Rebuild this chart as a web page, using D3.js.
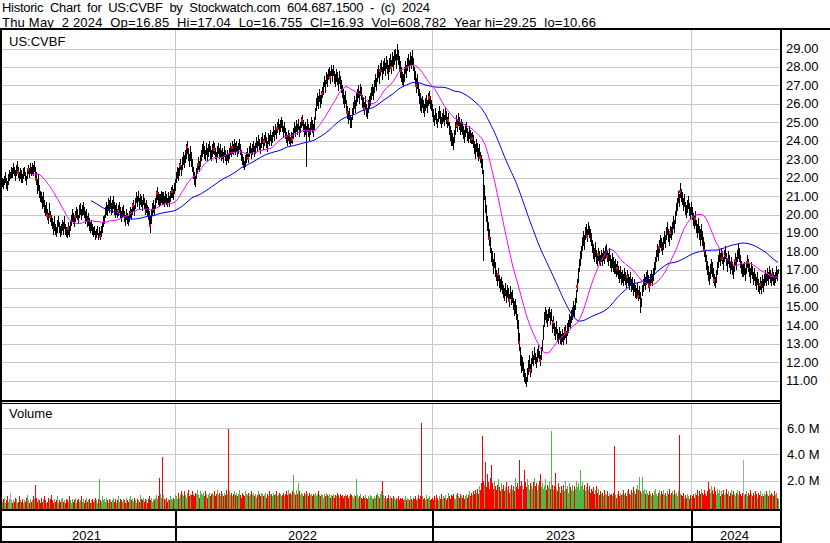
<!DOCTYPE html>
<html><head><meta charset="utf-8">
<script src="https://cdn.jsdelivr.net/npm/d3@7"></script>
<style>
body{margin:0;background:#fff}
svg{display:block}
text{font-family:"Liberation Sans",Arial,sans-serif;font-size:13px;fill:#000;white-space:pre}
</style>
</head><body>
<svg id="c" width="830" height="543"></svg>
<script>
const title1 = "Historic  Chart  for  US:CVBF  by  Stockwatch.com  604.687.1500  -  (c)  2024";
const title2 = "Thu May  2 2024  Op=16.85  Hi=17.04  Lo=16.755  Cl=16.93  Vol=608,782  Year hi=29.25  lo=10.66";
const symbol = "US:CVBF";
const years = ["2021", "2022", "2023", "2024"];
const yearStart = [173, 430, 689];           // bar index of first trading day of 2022, 2023, 2024
const priceTicks = [11,12,13,14,15,16,17,18,19,20,21,22,23,24,25,26,27,28,29];
const volTicks = [20, 40, 60];               // in 100k shares
const volTickLabels = ["2.0 M", "4.0 M", "6.0 M"];
const maFast = 31, maSlow = 90;

// daily highs
const hi = [
22.0,21.9,22.1,22.3,22.0,21.8,22.2,22.4,22.3,22.6,
22.5,22.8,22.6,22.4,22.7,22.9,22.6,22.3,22.5,22.4,
22.2,22.5,22.6,22.3,22.1,22.4,22.7,22.5,22.8,22.6,
22.8,22.7,22.9,22.6,22.3,21.9,22.2,21.6,21.3,21.2,
21.0,21.2,20.8,20.5,20.7,20.3,20.1,20.6,20.2,20.0,
19.8,19.6,19.9,19.5,19.3,19.7,19.9,19.6,19.4,19.5,
19.7,19.6,19.9,19.5,19.3,19.2,19.6,19.4,19.7,20.0,
20.3,20.1,19.9,20.2,20.4,20.3,20.0,20.5,20.6,20.3,
20.5,20.7,20.4,20.2,20.3,19.9,20.1,19.8,19.6,19.7,
19.5,19.3,19.4,19.1,19.2,19.4,19.0,19.3,19.1,19.4,
19.6,19.9,20.0,20.4,20.7,20.5,20.9,20.8,21.0,20.6,
20.8,21.0,20.7,20.5,20.6,20.3,20.5,20.7,20.4,20.2,
20.4,20.5,20.2,20.0,20.3,20.1,19.9,20.2,20.4,20.3,
20.6,20.8,20.5,20.9,21.2,21.0,21.3,20.9,21.1,21.0,
20.8,21.1,20.9,20.6,20.8,20.5,20.4,20.2,19.9,20.3,
20.6,20.8,20.5,20.9,21.3,21.5,21.2,21.1,21.1,21.3,
21.2,21.2,21.0,21.3,21.1,20.9,21.2,21.0,21.3,21.5,
21.6,21.4,21.7,21.9,22.3,22.6,22.5,22.8,23.0,22.7,
23.1,23.4,23.2,23.5,23.8,24.0,23.6,23.3,23.7,23.4,
23.0,22.6,22.3,22.1,22.5,22.8,23.1,22.9,23.2,23.5,
23.8,24.0,23.7,23.5,23.9,23.6,23.8,24.0,23.7,23.5,
23.8,24.0,23.9,23.6,23.4,23.7,23.9,23.6,23.8,23.5,
23.6,23.4,23.7,23.5,23.2,23.5,23.3,23.6,23.9,23.7,
24.0,23.8,24.1,23.9,24.0,23.7,23.9,24.1,23.8,23.5,
23.3,23.1,22.9,23.2,23.4,23.6,23.3,23.7,23.9,23.6,
23.8,24.0,23.7,23.9,24.2,24.0,24.3,24.1,23.9,24.2,
24.4,24.1,24.3,24.5,24.2,24.0,24.4,24.3,24.6,24.3,
24.5,24.8,24.6,24.9,24.7,25.0,25.2,24.9,25.1,25.3,
25.1,24.8,25.0,24.7,24.5,24.3,24.6,24.4,24.2,24.5,
24.4,24.7,25.0,24.8,25.1,24.9,25.2,24.8,25.0,25.3,
25.4,25.1,24.9,25.0,24.8,25.2,24.9,24.7,25.0,25.3,
25.1,24.9,25.3,25.8,26.3,26.6,26.4,26.8,26.5,26.7,
26.9,27.2,27.5,27.3,27.7,27.6,27.9,28.0,27.8,28.1,
27.9,28.1,27.8,27.6,27.9,27.7,27.4,27.8,27.5,27.3,
27.0,26.8,26.5,26.7,26.2,25.9,25.6,25.8,25.4,25.3,
25.8,26.1,26.4,26.2,26.6,26.8,27.0,26.7,27.1,26.9,
26.5,26.3,26.1,26.4,26.0,25.8,26.2,26.4,26.6,26.9,
27.1,26.9,27.3,27.6,27.4,27.9,28.1,27.8,28.2,28.4,
28.0,28.3,28.5,28.2,28.6,28.4,28.1,28.5,28.7,28.4,
28.8,28.6,28.9,29.0,28.7,29.25,28.9,28.6,28.3,28.0,
27.7,27.6,28.0,28.3,28.1,28.5,28.7,28.4,28.8,28.6,
28.9,28.5,28.0,27.8,27.4,27.6,27.2,26.8,26.6,26.3,
26.4,26.2,26.0,26.3,26.5,26.2,26.6,26.7,26.4,26.2,
26.0,25.7,25.4,25.8,25.5,25.2,25.6,25.9,25.6,25.3,
25.5,25.7,25.4,25.8,25.6,25.3,25.5,25.0,24.8,24.6,
24.4,24.2,24.6,25.0,25.4,25.2,25.5,25.3,25.0,25.2,
25.0,24.8,24.6,24.9,25.0,24.7,24.5,24.8,24.6,24.4,
24.5,24.3,24.0,23.8,24.1,23.9,23.6,23.8,23.4,23.2,
23.0,22.4,21.6,21.0,20.5,19.9,19.6,19.2,18.8,18.2,
18.0,17.6,17.9,17.4,17.0,16.8,17.1,16.7,16.5,16.6,
16.4,16.2,16.0,16.3,15.9,16.2,16.0,15.7,16.1,15.8,
15.9,15.5,15.3,15.4,15.1,14.6,14.3,13.6,12.8,12.4,
12.3,12.0,11.6,11.4,11.2,11.7,12.1,12.4,11.9,12.2,
12.6,12.4,12.8,12.5,12.3,12.7,12.9,12.6,12.4,12.8,
13.2,14.0,14.7,15.0,14.8,14.6,14.9,15.0,14.7,14.9,
14.3,14.5,14.1,13.9,14.2,13.8,13.6,13.9,13.7,13.5,
13.8,13.6,13.9,14.0,13.7,14.1,14.3,14.6,14.5,14.8,
15.0,15.3,15.1,15.5,15.9,16.5,17.1,17.6,18.0,18.3,
18.8,19.1,18.9,19.3,19.5,19.2,19.6,19.4,19.2,19.0,
18.6,18.4,18.2,18.5,18.1,17.9,18.2,18.0,17.8,18.1,
17.9,18.2,18.0,18.3,18.4,18.1,17.9,18.2,17.8,17.6,
17.9,17.7,17.5,17.6,17.3,17.5,17.2,17.0,17.2,16.9,
17.0,16.8,17.1,16.9,16.7,17.0,16.8,16.6,16.9,16.5,
16.6,16.3,16.5,16.2,16.0,16.3,15.9,16.1,15.8,15.5,
16.2,16.5,16.8,16.6,16.9,17.0,16.7,16.5,16.8,17.0,
16.8,17.1,17.4,17.7,18.1,18.4,18.2,18.6,18.9,18.7,
18.5,18.8,19.1,18.9,19.3,19.6,19.2,19.0,19.4,19.3,
19.6,19.9,19.7,20.2,20.6,20.9,21.3,21.1,21.7,21.4,
21.2,20.9,21.1,20.7,20.5,20.8,21.0,20.6,20.4,20.7,
20.4,20.1,19.9,20.2,19.7,19.5,19.8,19.4,19.2,19.5,
19.1,18.8,18.5,18.1,17.8,17.5,17.2,16.9,17.3,17.6,
17.4,17.1,16.8,16.6,17.0,17.4,17.8,18.1,17.9,18.2,
18.0,17.7,18.1,18.3,17.9,17.6,18.0,17.8,17.5,17.7,
17.4,17.2,17.6,17.9,17.7,18.1,18.4,18.2,17.8,17.5,
17.3,17.3,17.4,17.1,17.5,17.8,17.6,17.3,17.1,17.4,
17.2,16.9,17.1,16.8,16.6,16.9,16.5,16.3,16.6,16.4,
16.7,16.5,16.8,17.0,16.8,17.1,16.9,17.2,17.0,16.8,
17.1,16.9,16.7,16.9,17.2,17.0,17.04
];
// daily lows
const lo = [
21.5,21.4,21.6,21.7,21.4,21.3,21.6,21.8,21.9,22.0,
22.0,22.2,22.1,21.8,22.1,22.3,22.0,21.8,21.9,21.7,
21.7,21.9,22.1,21.8,21.6,21.9,22.2,22.0,22.2,22.1,
22.2,22.1,22.3,21.9,21.6,21.1,21.3,20.9,20.7,20.6,
20.3,20.4,20.1,19.9,20.0,19.7,19.5,19.8,19.6,19.4,
19.2,18.9,19.1,18.9,18.8,19.0,19.3,19.0,18.8,18.9,
19.1,18.9,19.2,18.9,18.8,18.7,18.9,18.8,19.1,19.4,
19.6,19.5,19.3,19.6,19.8,19.7,19.5,19.8,20.0,19.7,
19.9,20.0,19.8,19.5,19.6,19.3,19.4,19.1,19.0,19.1,
18.9,18.8,18.9,18.6,18.7,18.9,18.6,18.7,18.6,18.8,
19.0,19.3,19.5,19.8,20.0,19.9,20.2,20.1,20.3,20.0,
20.1,20.3,20.0,19.8,20.0,19.8,19.9,20.1,19.8,19.6,
19.8,19.9,19.6,19.4,19.7,19.5,19.4,19.6,19.8,19.7,
20.0,20.2,19.9,20.3,20.6,20.4,20.7,20.3,20.5,20.4,
20.2,20.5,20.3,20.0,20.1,19.9,19.7,19.4,19.0,19.5,
19.9,20.1,19.9,20.3,20.6,20.8,20.5,20.4,20.5,20.6,
20.5,20.5,20.4,20.6,20.5,20.4,20.6,20.4,20.7,20.9,
20.9,20.8,21.1,21.3,21.7,21.9,21.8,22.1,22.4,22.1,
22.4,22.7,22.5,22.8,23.0,23.3,22.9,22.6,22.9,22.6,
22.3,21.9,21.6,21.5,21.9,22.2,22.4,22.3,22.6,22.9,
23.1,23.3,23.0,22.9,23.2,22.9,23.1,23.4,23.0,22.9,
23.1,23.3,23.2,23.0,22.8,23.1,23.3,23.0,23.1,22.9,
23.0,22.8,23.1,22.9,22.7,22.9,22.8,23.0,23.2,23.1,
23.3,23.2,23.4,23.2,23.4,23.1,23.3,23.5,23.2,22.9,
22.7,22.5,22.4,22.6,22.8,23.0,22.8,23.1,23.3,23.0,
23.2,23.4,23.1,23.3,23.6,23.4,23.7,23.5,23.3,23.6,
23.8,23.5,23.7,23.9,23.6,23.4,23.8,23.7,24.0,23.7,
23.9,24.2,24.0,24.3,24.1,24.4,24.6,24.3,24.5,24.7,
24.5,24.2,24.4,24.1,23.9,23.7,24.0,23.8,23.7,23.9,
23.8,24.1,24.4,24.2,24.5,24.3,24.6,24.2,24.4,24.7,
24.8,24.5,24.2,24.3,22.6,24.5,24.2,24.0,24.3,24.6,
24.4,24.2,24.6,25.1,25.6,25.9,25.7,26.1,25.8,26.0,
26.3,26.5,26.9,26.6,27.1,26.9,27.3,27.4,27.1,27.5,
27.2,27.5,27.1,26.9,27.2,27.0,26.7,27.1,26.8,26.6,
26.3,26.0,25.8,26.0,25.5,25.2,24.9,25.1,24.7,24.7,
25.1,25.4,25.7,25.5,25.9,26.1,26.3,26.0,26.4,26.2,
25.8,25.6,25.4,25.7,25.3,25.2,25.5,25.7,25.9,26.2,
26.4,26.2,26.6,26.9,26.7,27.2,27.4,27.1,27.5,27.7,
27.3,27.6,27.8,27.5,27.9,27.6,27.3,27.7,28.0,27.6,
28.0,27.8,28.1,28.3,27.9,28.4,28.1,27.7,27.4,27.2,
27.0,26.9,27.2,27.6,27.4,27.8,28.0,27.7,28.1,27.9,
28.1,27.8,27.3,27.0,26.6,26.8,26.4,26.0,25.6,25.5,
25.8,25.5,25.3,25.6,25.8,25.5,25.9,26.0,25.7,25.6,
25.3,25.0,24.8,25.1,24.9,24.7,25.0,25.2,24.9,24.7,
24.9,25.0,24.8,25.1,24.9,24.7,24.8,24.3,24.0,23.7,
23.7,23.5,23.9,24.3,24.7,24.5,24.8,24.6,24.3,24.5,
24.3,24.1,23.9,24.2,24.4,24.0,23.9,24.1,23.9,23.8,
23.8,23.6,23.3,23.0,23.4,23.1,22.9,23.0,22.8,22.5,
22.2,17.5,20.8,20.1,19.6,19.1,18.7,18.3,17.9,17.4,
17.2,16.8,17.1,16.6,16.4,16.1,16.4,16.0,15.8,15.9,
15.7,15.5,15.3,15.6,15.2,15.5,15.3,15.0,15.4,15.1,
15.2,14.8,14.5,14.6,14.3,13.8,13.0,12.6,11.8,11.4,
11.5,11.2,10.9,10.8,10.66,10.9,11.3,11.6,11.2,11.4,
11.9,11.8,12.1,11.9,11.7,12.0,12.2,12.0,11.8,12.1,
12.6,13.2,13.9,14.3,14.1,13.9,14.2,14.4,14.0,14.2,
13.6,13.8,13.4,13.2,13.5,13.1,13.0,13.2,13.0,12.9,
13.1,12.9,13.2,13.3,13.0,13.4,13.6,13.9,13.8,14.1,
14.3,14.5,14.4,14.8,15.2,15.8,16.3,16.9,17.2,17.6,
18.0,18.3,18.1,18.6,18.8,18.5,18.9,18.7,18.5,18.3,
17.9,17.6,17.4,17.7,17.3,17.2,17.5,17.3,17.2,17.4,
17.2,17.5,17.3,17.6,17.7,17.4,17.2,17.5,17.1,16.9,
17.1,16.9,16.8,16.8,16.6,16.7,16.5,16.3,16.5,16.2,
16.3,16.1,16.4,16.2,16.0,16.3,16.1,15.9,16.2,15.8,
15.9,15.6,15.8,15.5,15.4,15.6,15.3,15.4,14.65,15.0,
15.6,15.8,16.1,15.9,16.2,16.3,16.0,15.8,16.1,16.3,
16.1,16.4,16.7,17.0,17.4,17.7,17.5,17.9,18.2,18.0,
17.8,18.1,18.4,18.2,18.6,18.9,18.5,18.3,18.7,18.6,
18.9,19.2,19.0,19.5,19.9,20.2,20.6,20.4,20.9,20.7,
20.5,20.2,20.4,20.0,19.8,20.1,20.3,19.9,19.7,20.0,
19.7,19.4,19.2,19.4,19.0,18.7,19.0,18.6,18.3,18.6,
18.3,18.0,17.7,17.4,17.0,16.7,16.4,16.2,16.5,16.8,
16.6,16.3,16.1,16.0,16.3,16.7,17.1,17.4,17.2,17.5,
17.3,17.0,17.4,17.6,17.2,16.9,17.3,17.1,16.8,17.0,
16.7,16.5,16.9,17.2,17.0,17.4,17.6,17.4,17.1,16.8,
16.6,16.6,16.7,16.4,16.8,17.1,16.9,16.6,16.3,16.7,
16.5,16.2,16.4,16.1,15.9,16.2,15.8,15.7,15.9,15.7,
16.0,15.8,16.1,16.3,16.1,16.4,16.2,16.5,16.3,16.1,
16.4,16.2,16.1,16.3,16.5,16.4,16.755
];
// daily volume, in 100k shares
const volume = [
4,6,7,3,5,8,4,6,11,5, 3,5,4,7,6,3,4,8,5,4, 6,3,5,4,7,9,5,3,6,4, 5,8,6,17,7,4,6,5,3,7,
4,6,8,5,3,4,7,5,6,9, 5,3,6,4,5,8,3,5,4,6, 7,4,5,3,6,5,4,8,5,3, 6,4,5,7,3,5,6,4,5,8,
4,6,3,5,7,4,5,6,3,5, 6,4,5,7,5,3,6,21,5,4, 8,5,6,4,7,5,3,6,5,4, 5,7,4,6,3,5,8,4,6,5,
4,6,5,3,7,5,4,6,8,5, 6,4,7,5,3,6,5,4,9,6, 5,7,4,6,5,3,6,8,5,7, 4,6,5,7,9,6,8,22,10,7,
38,9,6,5,7,4,6,5,8,6, 5,7,6,9,8,6,11,7,9,12, 10,8,12,9,7,11,13,8,10,9, 12,9,8,11,10,13,9,7,12,10,
9,11,8,12,10,7,9,11,8,10, 11,9,12,8,10,13,9,11,8,12, 10,8,11,9,13,10,59,12,9,11, 8,10,12,9,11,8,10,13,9,7,
11,9,8,12,10,9,11,8,10,12, 9,11,8,10,7,9,12,10,8,11, 10,8,9,11,7,10,8,12,9,10, 8,11,9,10,12,8,9,11,10,8,
9,11,8,10,12,9,13,10,11,9, 12,24,11,9,13,10,18,12,9,11, 10,8,11,9,12,10,8,11,9,10, 8,10,9,11,8,10,12,9,8,10,
9,7,10,8,11,9,8,10,7,9, 8,10,7,9,8,11,9,7,10,8, 9,7,8,10,8,9,7,8,10,9, 8,7,9,8,21,9,7,8,10,7,
6,8,7,9,7,6,8,7,9,8, 7,6,8,7,9,11,8,7,10,12, 20,9,7,8,6,7,9,6,8,7, 6,8,7,5,7,6,8,5,7,6,
7,5,6,8,5,7,6,5,8,6, 5,7,6,8,5,7,9,6,8,64, 8,6,7,5,9,6,7,8,5,6, 7,5,8,6,9,7,5,8,6,10,
6,8,7,9,5,7,11,8,6,9, 8,10,7,6,9,11,8,7,10,8, 7,9,6,8,10,7,9,12,8,11, 9,12,10,13,11,14,10,16,13,18,
54,20,17,34,15,25,19,14,22,32, 18,14,20,16,13,17,21,15,12,18, 14,17,12,15,19,13,16,11,14,17, 13,16,12,22,15,18,14,36,16,20,
17,14,28,19,15,21,17,13,18,16, 14,19,22,16,18,13,17,20,25,15, 18,14,16,21,13,17,15,19,14,58, 17,13,16,26,14,12,18,15,11,16,
13,17,12,20,14,16,11,18,15,13, 17,12,16,14,20,15,18,13,28,16, 19,14,17,12,15,18,13,16,11,14, 12,15,10,13,16,11,14,9,12,10,
11,8,13,10,9,12,8,11,9,10, 8,11,46,9,7,10,12,8,11,9, 10,13,9,11,8,12,14,10,9,13, 11,15,12,10,14,17,13,23,12,11,
23,12,14,10,13,11,9,12,10,8, 11,9,12,14,10,8,11,13,9,12, 10,13,9,11,8,12,10,14,9,11, 12,9,13,10,11,8,12,55,10,9,
8,11,6,9,7,10,8,6,9,7, 8,10,7,11,9,13,8,12,10,14, 11,9,13,10,8,12,19,14,11,16, 13,10,15,12,9,14,11,13,8,12,
10,13,9,11,14,10,12,8,11,13, 9,12,10,8,11,13,9,12,10,8, 11,36,9,10,12,8,11,9,13,10, 8,11,9,12,10,7,11,9,12,8,
10,8,11,9,12,10,8,13,9,11, 10,8,12,9,11,7,6
];
// bars flagged with a news release (red dot)
const news = [16,26,34,45,48,66,73,98,116,131,148,155,170,178,185,196,212,230,246,262,275,290,300,320,328,345,362,378,389,398,414,427,446,455,470,478,487,496,507,517,528,538,551,563,575,585,596,605,615,625,636,647,657,668,678,693,702,712,720,733,745,758,770];

const svg = d3.select("#c");
const N = hi.length;
const mid = hi.map((h, i) => (h + lo[i]) / 2);

const x = d3.scaleLinear().domain([0, N - 1]).range([2, 2 + (N - 1)]);
const y = d3.scaleLinear().domain([11, 29]).range([380.5, 48.5]);
const yv = d3.scaleLinear().domain([0, 60]).range([507, 428]);

const PL = 2, PR = 780;
const yearX = yearStart.map(i => Math.round(x(i - 0.5)));

svg.append("rect").attr("width", 830).attr("height", 543).attr("fill", "#fff");

const g = svg.append("g").attr("shape-rendering", "crispEdges");
g.selectAll(".pg").data(priceTicks).join("line")
  .attr("x1", PL).attr("x2", PR)
  .attr("y1", d => Math.round(y(d)) + 0.5).attr("y2", d => Math.round(y(d)) + 0.5)
  .attr("stroke", "#c8c8c8");
g.selectAll(".vg").data(volTicks).join("line")
  .attr("x1", PL).attr("x2", PR)
  .attr("y1", d => Math.round(yv(d)) + 0.5).attr("y2", d => Math.round(yv(d)) + 0.5)
  .attr("stroke", "#c8c8c8");
yearX.forEach(xx => {
  g.append("line").attr("x1", xx + 0.5).attr("x2", xx + 0.5).attr("y1", 30).attr("y2", 400).attr("stroke", "#c8c8c8");
  g.append("line").attr("x1", xx + 0.5).attr("x2", xx + 0.5).attr("y1", 404).attr("y2", 509).attr("stroke", "#c8c8c8");
});

// price bars
const bars = svg.append("g").attr("shape-rendering", "crispEdges");
bars.selectAll("rect").data(d3.range(N)).join("rect")
  .attr("x", i => Math.round(x(i)))
  .attr("width", 1)
  .attr("y", i => Math.round(y(hi[i])))
  .attr("height", i => Math.max(1, Math.round(y(lo[i])) - Math.round(y(hi[i]))))
  .attr("fill", "#000");

// moving averages
function sma(arr, n) {
  return arr.map((_, i) => i < n - 1 ? null : d3.mean(arr.slice(i - n + 1, i + 1)));
}
const line = d3.line().defined(d => d != null).x((d, i) => x(i)).y(d => y(d));
svg.append("path").datum(sma(mid, maSlow)).attr("d", line).attr("fill", "none").attr("stroke", "#0000ff").attr("stroke-width", 1);
svg.append("path").datum(sma(mid, maFast)).attr("d", line).attr("fill", "none").attr("stroke", "#ff00ff").attr("stroke-width", 1);

// news dots
svg.append("g").attr("shape-rendering", "crispEdges").selectAll("rect").data(news).join("rect")
  .attr("x", i => Math.round(x(i)) - 1).attr("y", i => Math.round(y(mid[i])) - 1)
  .attr("width", 2).attr("height", 3).attr("fill", "#ff0000");

// volume bars
svg.append("g").attr("shape-rendering", "crispEdges").selectAll("rect").data(d3.range(N)).join("rect")
  .attr("x", i => Math.round(x(i)))
  .attr("width", 1)
  .attr("y", i => Math.round(yv(volume[i])))
  .attr("height", i => 509 - Math.round(yv(volume[i])))
  .attr("fill", i => {
    if (i === 0) return "#4db848";
    const d = mid[i] - mid[i - 1];
    return d > 0.001 ? "#4db848" : d < -0.001 ? "#ff0000" : "#a8a8a8";
  });

// frame
const f = svg.append("g").attr("shape-rendering", "crispEdges").attr("fill", "#000");
f.append("rect").attr("x", 0).attr("y", 28).attr("width", 830).attr("height", 2);
f.append("rect").attr("x", 0).attr("y", 28).attr("width", 2).attr("height", 515);
f.append("rect").attr("x", 780).attr("y", 28).attr("width", 2).attr("height", 515);
f.append("rect").attr("x", 0).attr("y", 400).attr("width", 782).attr("height", 2);
f.append("rect").attr("x", 0).attr("y", 403).attr("width", 782).attr("height", 1);
f.append("rect").attr("x", 0).attr("y", 509).attr("width", 782).attr("height", 2);
f.append("rect").attr("x", 0).attr("y", 526).attr("width", 782).attr("height", 2);
f.append("rect").attr("x", 0).attr("y", 541).attr("width", 782).attr("height", 2);
yearX.forEach(xx => f.append("rect").attr("x", xx - 0.5).attr("y", 511).attr("width", 2).attr("height", 32));

// texts
svg.append("text").attr("xml:space", "preserve").attr("x", 2).attr("y", 12)
  .attr("textLength", 428).attr("lengthAdjust", "spacing").text(title1);
svg.append("text").attr("xml:space", "preserve").attr("x", 2).attr("y", 26.5)
  .attr("textLength", 594).attr("lengthAdjust", "spacing").text(title2);
svg.append("text").attr("x", 9).attr("y", 46).text(symbol);
svg.append("text").attr("x", 9).attr("y", 418).text("Volume");

svg.selectAll(".pl").data(priceTicks).join("text")
  .attr("x", 786).attr("y", d => y(d) + 4.5).text(d => d.toFixed(2));
svg.selectAll(".vl").data(volTicks).join("text")
  .attr("x", 787).attr("y", d => yv(d) + 4.5).text((d, i) => volTickLabels[i]);

const bounds = [0, ...yearX, 780];
svg.selectAll(".yl").data(years).join("text")
  .attr("x", (d, i) => (bounds[i] + bounds[i + 1]) / 2 - 1)
  .attr("y", 539.5).attr("text-anchor", "middle").text(d => d);
</script>
</body></html>
